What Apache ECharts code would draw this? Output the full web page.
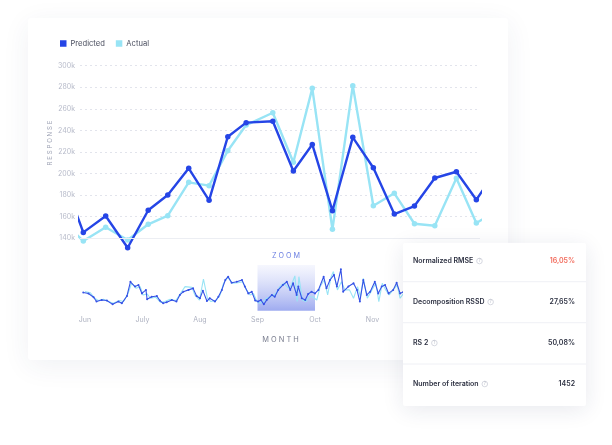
<!DOCTYPE html>
<html>
<head>
<meta charset="utf-8">
<script src="https://cdn.jsdelivr.net/npm/echarts@6/dist/echarts.min.js"></script>
<style>
html,body{margin:0;padding:0;background:#fff;}
#c{width:612px;height:445px;}
</style>
</head>
<body>
<div id="c"></div>
<script>
// ---- Main (zoomed) chart data ----
const mainX = [-1, 0, 1.1, 2.18, 3.19, 4.15, 5.18, 6.18, 7.1, 8.0, 9.31, 10.32, 11.25, 12.24, 13.24, 14.25, 15.28, 16.27, 17.27, 18.33, 19.31, 20.3];
const predicted = [197, 145.5, 160.7, 131.3, 166, 180.1, 204.9, 175.2, 234.2, 247.2, 248.5, 202.4, 227, 165.6, 233.6, 205.4, 162.5, 169.9, 195.9, 201.7, 175.8, 203];
const actual = [156, 137.5, 150.2, 138.4, 153, 161, 191.9, 188.8, 221.2, 245, 256.4, 210.5, 279, 148.3, 281.5, 170.2, 181.7, 153.5, 151.7, 195.6, 154.2, 165];
const yTicks = [120, 140, 160, 180, 200, 220, 240, 260, 280, 300];

// ---- Overview (mini) chart data, x in months from June ----
const miniPredX = [-0.03,0.06,0.15,0.20,0.29,0.38,0.48,0.58,0.64,0.73,0.79,0.87,0.93,0.99,1.06,1.08,1.16,1.25,1.30,1.36,1.42,1.51,1.59,1.65,1.71,1.80,1.88,1.94,2.00,2.05,2.12,2.17,2.26,2.32,2.38,2.44,2.49,2.55,2.64,2.73,2.78,2.84,2.90,2.96,3.01,3.06,3.11,3.16,3.25,3.30,3.36,3.44,3.51,3.57,3.62,3.68,3.71,3.77,3.83,3.88,3.94,4.00,4.06,4.15,4.20,4.26,4.33,4.38,4.45,4.49,4.58,4.67,4.73,4.78,4.84,4.90,4.96,5.04,5.10,5.16,5.22,5.28,5.36,5.42,5.48,5.54];
const miniPred = [192,188,173,156,162,160,145,156,149,178,234,215,221,188,202,165,175,178,160,149,153,162,156,182,195,202,208,178,169,199,158,169,156,175,202,241,254,230,234,241,215,188,195,160,156,162,145,162,182,175,202,221,234,202,228,182,215,169,162,186,195,188,202,254,208,241,261,215,283,195,215,228,202,156,241,182,195,234,188,215,221,188,202,230,188,195];
const miniActX = [0.0,0.09,0.17,0.23,0.32,0.41,0.49,0.60,0.67,0.75,0.81,0.89,0.96,1.01,1.08,1.14,1.23,1.32,1.39,1.48,1.58,1.66,1.74,1.86,1.91,1.99,2.06,2.13,2.19,2.28,2.35,2.41,2.48,2.57,2.66,2.74,2.81,2.87,2.93,2.99,3.04,3.10,3.16,3.23,3.32,3.39,3.46,3.54,3.59,3.65,3.69,3.72,3.78,3.84,3.90,3.96,4.03,4.09,4.16,4.22,4.28,4.32,4.39,4.46,4.52,4.60,4.67,4.74,4.79,4.84,4.91,4.99,5.06,5.11,5.17,5.23,5.29,5.38,5.43,5.48,5.54];
const miniAct = [195,191,169,160,165,156,149,160,156,188,228,208,215,182,186,169,173,152,156,165,160,188,215,212,182,162,244,169,156,160,182,228,251,228,230,234,202,182,188,156,149,156,169,175,188,215,228,208,221,257,156,254,162,156,175,175,162,215,241,182,254,274,202,234,202,202,169,215,175,247,169,202,228,156,228,202,182,208,221,169,188];
const monthLabels = ['', 'Jun', 'July', 'Aug', 'Sep', 'Oct', 'Nov'];
const zoomRange = [3, 4];

// ---- Metrics card ----
const metricNames = ['Normalized RMSE', 'Decomposition RSSD', 'RS 2', 'Number of iteration'];
const metricValues = ['16,05%', '27,65%', '50,08%', '1452'];

const FONT = 'Inter, "Noto Sans", sans-serif';
const C_PRED = '#2545e6';
const C_ACT = '#98e4f5';

const chart = echarts.init(document.getElementById('c'), null, {renderer: 'canvas'});

const pairs = (xs, ys) => xs.map((x, i) => [x, ys[i]]);

const graphics = [
  {type: 'rect', z: 0, shape: {x: 28, y: 18, width: 480, height: 342, r: 3},
   style: {fill: '#fff', shadowBlur: 28, shadowColor: 'rgba(40,50,100,0.07)', shadowOffsetY: 6}},
  {type: 'text', z: 10, x: 50, y: 143, rotation: Math.PI / 2,
   style: {text: 'R E S P O N S E', fontSize: 6.2, fontFamily: FONT, fill: '#9da2b4', align: 'center', verticalAlign: 'middle'}},
  {type: 'text', z: 10, x: 286, y: 255.5,
   style: {text: 'Z O O M', fontSize: 7.2, fontFamily: FONT, fill: '#6b7fe2', align: 'center', verticalAlign: 'middle'}},
  {type: 'text', z: 10, x: 280.5, y: 340,
   style: {text: 'M O N T H', fontSize: 7.4, fontFamily: FONT, fill: '#7b7f90', align: 'center', verticalAlign: 'middle'}},
  {type: 'rect', z: 100, shape: {x: 403, y: 243, width: 183, height: 163, r: 2},
   style: {fill: '#fff', shadowBlur: 22, shadowColor: 'rgba(30,40,90,0.10)', shadowOffsetY: 4}}
];
const rowY = [261, 302, 343, 384];
[281.7, 322.7, 364].forEach(y => graphics.push({
  type: 'line', z: 101, shape: {x1: 403, y1: y, x2: 586, y2: y},
  style: {stroke: '#eff0f5', lineWidth: 1}
}));
metricNames.forEach((name, i) => {
  graphics.push({
    type: 'text', z: 102, x: 413, y: rowY[i],
    style: {
      text: '{l|' + name + '} {q|?}', verticalAlign: 'middle',
      rich: {
        l: {fontSize: 7, fontWeight: 600, fontFamily: FONT, fill: '#2d3142'},
        q: {fontSize: 4.2, fontFamily: FONT, fill: '#b3b7c4', borderColor: '#c5c9d4', borderWidth: 0.7,
            borderRadius: 3, width: 5.6, height: 5.6, lineHeight: 5.6, align: 'center', verticalAlign: 'middle'}
      }
    }
  });
  graphics.push({
    type: 'text', z: 102, x: 575, y: rowY[i],
    style: {text: metricValues[i], fontSize: 7, fontWeight: 600, fontFamily: FONT,
            fill: i === 0 ? '#f26a5b' : '#2d3142', align: 'right', verticalAlign: 'middle'}
  });
});

const option = {
  animation: false,
  backgroundColor: '#fff',
  textStyle: {fontFamily: FONT},
  legend: {
    data: ['Predicted', 'Actual'], left: 60, top: 39.5, icon: 'rect',
    itemWidth: 6.5, itemHeight: 6.5, itemGap: 11, padding: 0,
    textStyle: {fontSize: 7.6, color: '#4a4e5f', fontFamily: FONT, padding: [0, 0, 0, -1]}
  },
  grid: [
    {left: 80, top: 65.7, width: 400, height: 194.2},
    {left: 27.5, top: 265, width: 379.5, height: 45.7}
  ],
  xAxis: [
    {gridIndex: 0, type: 'value', min: -0.162, max: 19.49, show: false, splitLine: {show: false}},
    {gridIndex: 1, type: 'value', min: -1, max: 5.6, interval: 1,
     axisLine: {show: false}, axisTick: {show: false}, splitLine: {show: false},
     axisLabel: {
       showMaxLabel: false, margin: 6, fontSize: 7, fontFamily: FONT,
       color: (v) => (v === 0 ? '#d3d6df' : '#adb1c0'),
       formatter: (v) => monthLabels[Math.round(v) + 1] || ''
     }}
  ],
  yAxis: [
    {gridIndex: 0, type: 'value', min: yTicks[0], max: yTicks[yTicks.length - 1], interval: 20,
     axisLine: {show: false}, axisTick: {show: false},
     axisLabel: {margin: 5, fontSize: 7, fontFamily: FONT, color: '#b6bac9',
                 formatter: (v) => (v === yTicks[0] ? '' : v + 'k')},
     splitLine: {lineStyle: {type: [2, 3], width: 1,
       color: yTicks.map((t, i) => (i === 0 ? 'rgba(0,0,0,0)' : '#e2e4ec'))}}},
    {gridIndex: 1, type: 'value', min: 120, max: 300, show: false, splitLine: {show: false}}
  ],
  series: [
    {name: 'Actual', type: 'line', xAxisIndex: 0, yAxisIndex: 0, z: 3,
     data: pairs(mainX, actual), symbol: 'circle', symbolSize: 5.5, showSymbol: true,
     lineStyle: {color: C_ACT, width: 2.4}, itemStyle: {color: C_ACT},
     markLine: {silent: true, symbol: 'none', label: {show: false},
       lineStyle: {color: '#eceef3', type: 'solid', width: 1}, data: [{yAxis: 140}]}},
    {name: 'Predicted', type: 'line', xAxisIndex: 0, yAxisIndex: 0, z: 4,
     data: pairs(mainX, predicted), symbol: 'circle', symbolSize: 5.5, showSymbol: true,
     lineStyle: {color: C_PRED, width: 2.4}, itemStyle: {color: C_PRED}},
    {name: 'miniActual', type: 'line', xAxisIndex: 1, yAxisIndex: 1, z: 3,
     data: pairs(miniActX, miniAct), showSymbol: false, lineStyle: {color: C_ACT, width: 1.1},
     itemStyle: {color: C_ACT},
     markArea: {silent: true, itemStyle: {color: new echarts.graphic.LinearGradient(0, 0, 0, 1, [
       {offset: 0, color: 'rgba(238,240,253,0.55)'}, {offset: 1, color: 'rgba(148,162,238,0.9)'}])},
       data: [[{xAxis: zoomRange[0]}, {xAxis: zoomRange[1]}]]}},
    {name: 'miniPredicted', type: 'line', xAxisIndex: 1, yAxisIndex: 1, z: 4,
     data: pairs(miniPredX, miniPred), symbol: 'circle', symbolSize: 2, showSymbol: true,
     lineStyle: {color: '#3552e6', width: 1.1}, itemStyle: {color: '#3552e6'}}
  ],
  graphic: graphics
};
chart.setOption(option);
</script>
</body>
</html>
